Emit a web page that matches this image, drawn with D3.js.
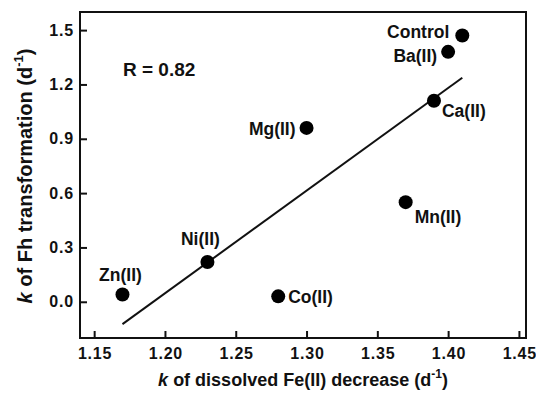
<!DOCTYPE html>
<html>
<head>
<meta charset="utf-8">
<script src="https://cdn.jsdelivr.net/npm/d3@7"></script>
<style>
  html, body { margin: 0; padding: 0; background: #fff; }
  svg { display: block; }
  text { font-family: "Liberation Sans", Arial, Helvetica, sans-serif; font-weight: bold; fill: #111; }
</style>
</head>
<body>
<svg id="chart" width="536" height="395"></svg>
<script>
// Rate constants for each treatment
const labels = ["Zn(II)", "Ni(II)", "Co(II)", "Mg(II)", "Mn(II)", "Ca(II)", "Ba(II)", "Control"];
const feDecrease = [1.17, 1.23, 1.28, 1.30, 1.37, 1.39, 1.40, 1.41];   // k of dissolved Fe(II) decrease (d^-1)
const fhTransform = [0.04, 0.22, 0.03, 0.96, 0.55, 1.11, 1.38, 1.47];  // k of Fh transformation (d^-1)
const xTicks = [1.15, 1.20, 1.25, 1.30, 1.35, 1.40, 1.45];
const yTicks = [0.0, 0.3, 0.6, 0.9, 1.2, 1.5];
const rText = "R = 0.82";

// label placement relative to each marker (pixels) and anchor
const labelPlace = {
  "Zn(II)":  { dx: -2,  dy: -14, anchor: "middle" },
  "Ni(II)":  { dx: -7,  dy: -17, anchor: "middle" },
  "Co(II)":  { dx: 10,  dy: 7,   anchor: "start" },
  "Mg(II)":  { dx: -11, dy: 7,   anchor: "end" },
  "Mn(II)":  { dx: 9,   dy: 21,  anchor: "start" },
  "Ca(II)":  { dx: 8,   dy: 16,  anchor: "start" },
  "Ba(II)":  { dx: -11, dy: 10,  anchor: "end" },
  "Control": { dx: -13, dy: 2,   anchor: "end" }
};

const W = 536, H = 395;
const margin = { left: 80, top: 12, right: 10, bottom: 57 };
const svg = d3.select("#chart");

const x = d3.scaleLinear().domain([1.14, 1.455]).range([margin.left, W - margin.right]);
const y = d3.scaleLinear().domain([-0.2, 1.6]).range([H - margin.bottom, margin.top]);

// axes with inward ticks
const gx = svg.append("g")
  .attr("transform", `translate(0,${H - margin.bottom})`)
  .call(d3.axisBottom(x).tickValues(xTicks).tickFormat(d3.format(".2f")).tickSize(-7).tickPadding(10));
const gy = svg.append("g")
  .attr("transform", `translate(${margin.left},0)`)
  .call(d3.axisLeft(y).tickValues(yTicks).tickFormat(d3.format(".1f")).tickSize(-7).tickPadding(6));
[gx, gy].forEach(g => {
  g.select(".domain").remove();
  g.selectAll(".tick line").attr("stroke", "#111").attr("stroke-width", 2);
  g.selectAll(".tick text").attr("font-size", 16).attr("font-weight", "bold")
    .attr("letter-spacing", 0.8)
    .attr("font-family", "Liberation Sans, Arial, sans-serif").attr("fill", "#111");
});
gx.selectAll(".tick text").attr("dx", 0.4);

// plot frame
svg.append("rect")
  .attr("x", margin.left).attr("y", margin.top)
  .attr("width", W - margin.left - margin.right)
  .attr("height", H - margin.top - margin.bottom)
  .attr("fill", "none").attr("stroke", "#111").attr("stroke-width", 2);

// least-squares fit line over the data range
const pts = feDecrease.map((v, i) => [v, fhTransform[i]]);
const mx = d3.mean(feDecrease), my = d3.mean(fhTransform);
const sxy = d3.sum(pts, p => (p[0] - mx) * (p[1] - my));
const sxx = d3.sum(pts, p => (p[0] - mx) ** 2);
const slope = sxy / sxx, intercept = my - slope * mx;
const [x0, x1] = d3.extent(feDecrease);
svg.append("line")
  .attr("x1", x(x0)).attr("y1", y(slope * x0 + intercept))
  .attr("x2", x(x1)).attr("y2", y(slope * x1 + intercept))
  .attr("stroke", "#111").attr("stroke-width", 2);

// markers
svg.append("g").selectAll("circle").data(pts).join("circle")
  .attr("cx", d => x(d[0])).attr("cy", d => y(d[1])).attr("r", 7).attr("fill", "#000");

// marker labels
svg.append("g").selectAll("text").data(labels).join("text")
  .attr("x", (d, i) => x(feDecrease[i]) + labelPlace[d].dx)
  .attr("y", (d, i) => y(fhTransform[i]) + labelPlace[d].dy)
  .attr("text-anchor", d => labelPlace[d].anchor)
  .attr("font-size", 17.5)
  .text(d => d);

// correlation note
svg.append("text").attr("x", 123).attr("y", 76).attr("font-size", 19).text(rText);

// axis titles
const xt = svg.append("text")
  .attr("x", (margin.left + W - margin.right) / 2).attr("y", 386)
  .attr("text-anchor", "middle").attr("font-size", 18);
xt.append("tspan").attr("font-style", "italic").text("k");
xt.append("tspan").text(" of dissolved Fe(II) decrease (d");
xt.append("tspan").attr("font-size", 12).attr("dy", -8).text("-1");
xt.append("tspan").attr("dy", 8).text(")");

const yt = svg.append("text")
  .attr("transform", `translate(32,${(margin.top + H - margin.bottom) / 2 + 1}) rotate(-90)`)
  .attr("text-anchor", "middle").attr("font-size", 20);
yt.append("tspan").attr("font-style", "italic").text("k");
yt.append("tspan").text(" of Fh transformation (d");
yt.append("tspan").attr("font-size", 13).attr("dy", -9).text("-1");
yt.append("tspan").attr("dy", 9).text(")");
</script>
</body>
</html>
